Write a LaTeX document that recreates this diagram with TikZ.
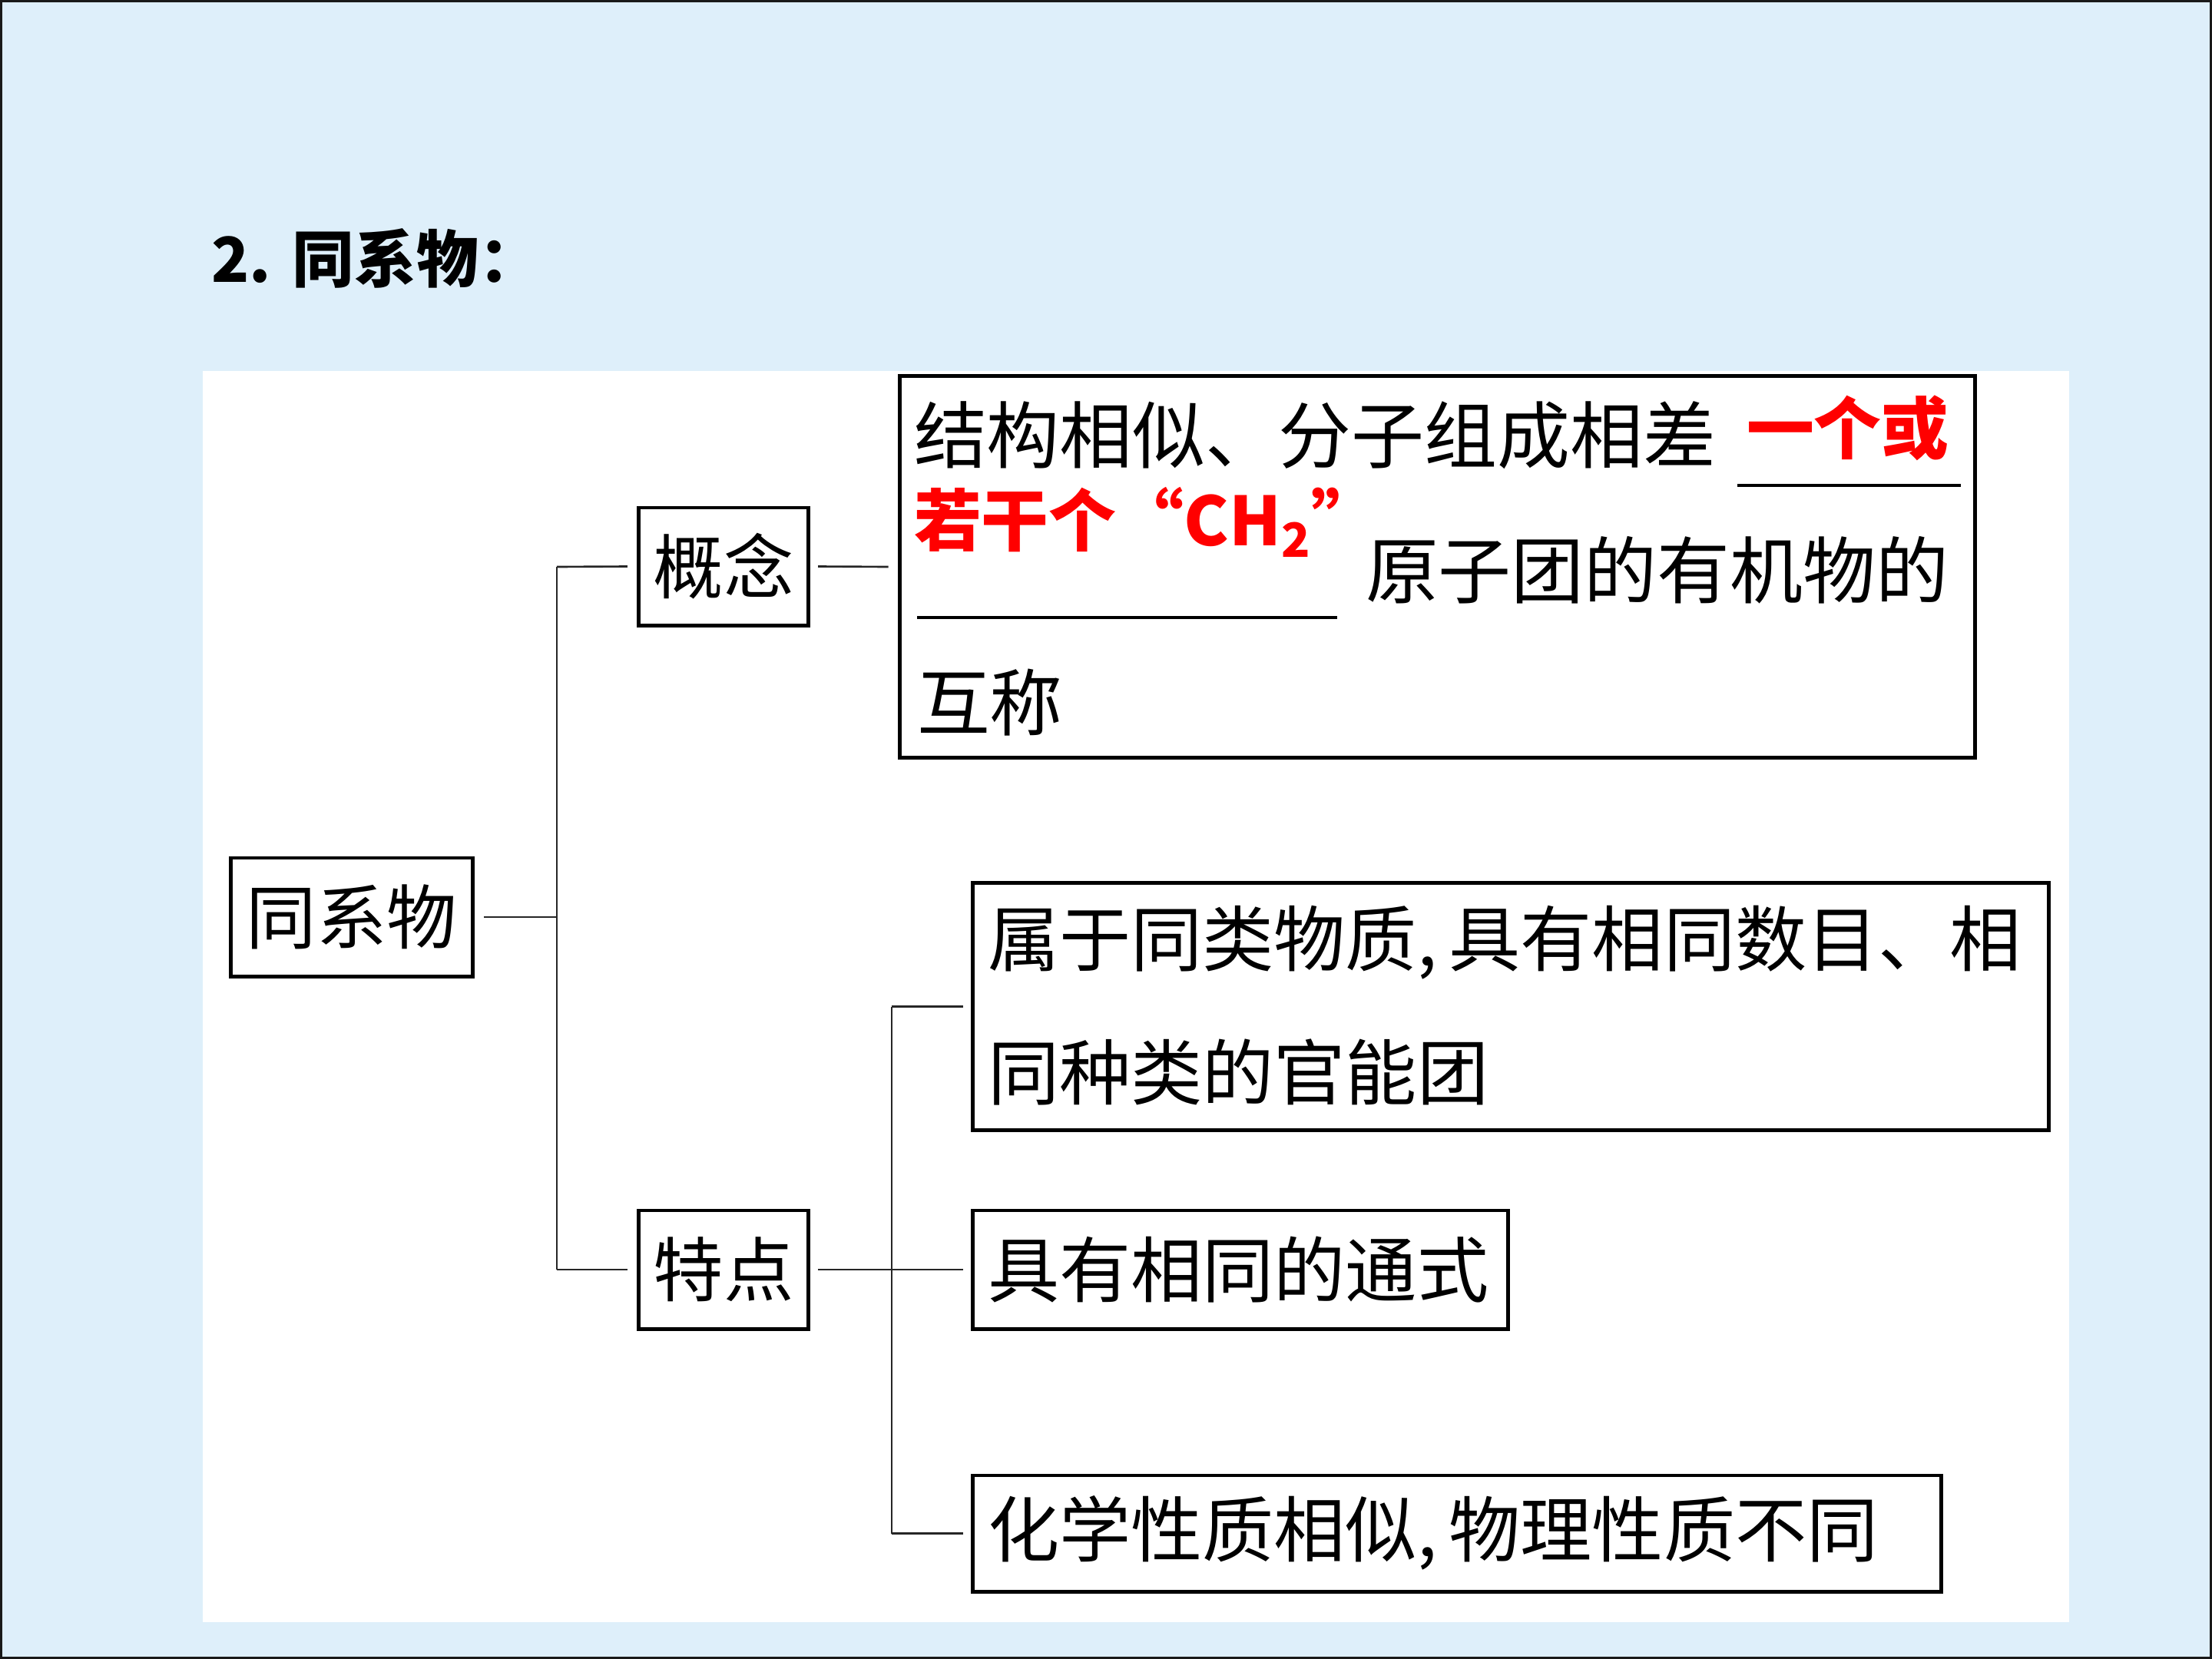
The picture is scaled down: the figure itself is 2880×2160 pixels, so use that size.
\documentclass[tikz,border=0pt]{standalone}
\usepackage{fontspec}
\setmainfont{Noto Sans CJK SC}
\definecolor{bgblue}{RGB}{222,239,250}
\begin{document}
\begin{tikzpicture}[x=0.01cm,y=-0.01cm,
  every node/.style={inner sep=0pt,outer sep=0pt},
  box/.style={draw=black,line width=1.4pt,fill=white,font=\fontsize{26}{30}\selectfont},
  txt/.style={anchor=west,font=\fontsize{26.5}{30}\selectfont},
  ctxt/.style={anchor=west,font=\fontsize{27}{30}\selectfont},
  redtxt/.style={anchor=west,text=red,font=\bfseries\fontsize{25}{30}\selectfont},
  tree/.style={line width=0.75pt,black!85},
  uline/.style={line width=1.1pt,black}
]
\useasboundingbox (0,0) rectangle (2880,2160);
\fill[bgblue] (0,0) rectangle (2880,2160);
\draw[line width=1pt,black!90] (1.5,1.5) rectangle (2878.5,2158.5);
\fill[white] (264,483) rectangle (2694,2112);

\node[anchor=west,font=\bfseries\fontsize{23}{27}\selectfont] (title) at (275,336) {2.\hspace{0.35em}同系物：};

% boxes
\node[box,minimum width=3.14cm,minimum height=1.54cm] (root) at (458,1194) {同系物};
\node[box,minimum width=2.20cm,minimum height=1.53cm] (gainian) at (942,737.5) {概念};
\node[box,minimum width=2.20cm,minimum height=1.54cm] (tedian) at (942,1653) {特点};
\node[box,minimum width=13.99cm,minimum height=4.96cm] (concept) at (1871.5,738) {};
\node[box,minimum width=14.00cm,minimum height=3.21cm] (boxA) at (1967,1310.5) {};
\node[box,minimum width=6.96cm,minimum height=1.54cm] (boxB) at (1615,1653) {};
\node[box,minimum width=12.60cm,minimum height=1.51cm] (boxC) at (1897,1996.5) {};

% concept text
\node[ctxt] (c1) at (1190,567) {结构相似、分子组成相差};
\node[redtxt] (r1) at (2274,557) {一个或};
\draw[uline] (2262,632) -- (2553,632);
\node[redtxt] (r2) at (1190,680) {若干个“CH\textsubscript{2}”};
\node[ctxt] (c2) at (1778,742) {原子团的有机物的};
\draw[uline] (1194,804) -- (1741,804);
\node[ctxt] (c3) at (1194,915) {互称};

% feature texts
\node[txt] (a1) at (1286,1227) {属于同类物质,\,具有相同数目、相};
\node[txt] (a2) at (1286,1396) {同种类的官能团};
\node[txt] (b1) at (1286,1653) {具有相同的通式};
\node[txt] (cc1) at (1286,1996) {化学性质相似,\,物理性质不同};

% connectors
\coordinate (j1) at (725,1194);
\coordinate (j1top) at (725,738);
\coordinate (j1bot) at (725,1653);
\draw[tree] ([xshift=0.15cm]root.east) -- (j1);
\draw[tree] (j1top) -- (j1bot);
\draw[tree] (j1top) -- ([xshift=-0.15cm]gainian.west);
\draw[tree] (j1bot) -- ([xshift=-0.15cm]tedian.west);
\draw[tree] ([xshift=0.13cm]gainian.east) -- ([xshift=-0.15cm]concept.west);

\coordinate (j2top) at (1161,1310.5);
\coordinate (j2bot) at (1161,1996.5);
\draw[tree] ([xshift=0.13cm]tedian.east) -- ([xshift=-0.13cm]boxB.west);
\draw[tree] (j2top) -- (j2bot);
\draw[tree] (j2top) -- ([xshift=-0.13cm]boxA.west);
\draw[tree] (j2bot) -- ([xshift=-0.13cm]boxC.west);
\end{tikzpicture}
\end{document}
